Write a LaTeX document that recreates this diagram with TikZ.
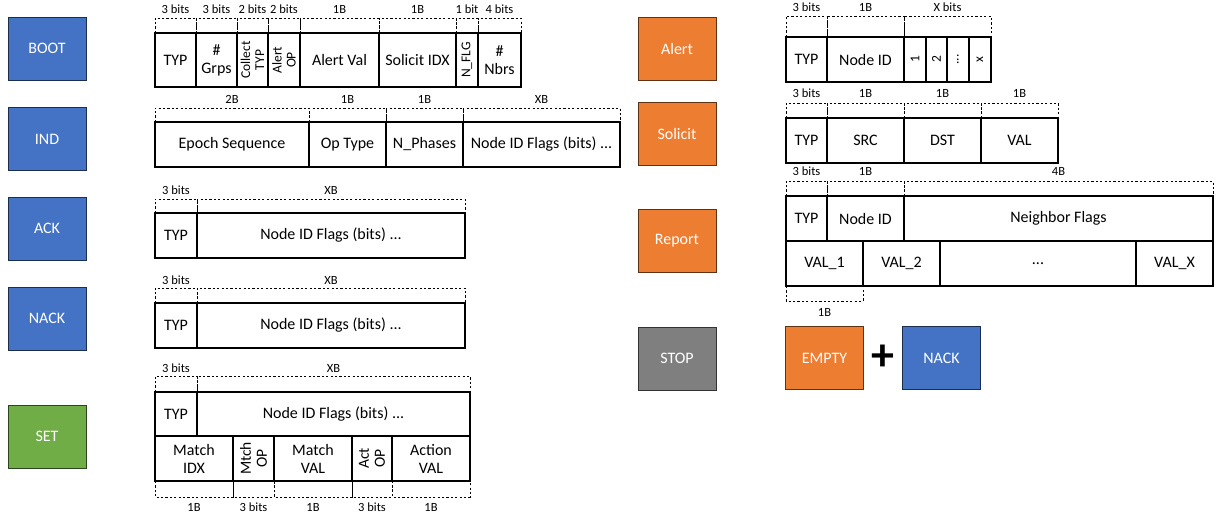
\documentclass[tikz,border=0pt]{standalone}
\usepackage{fontspec}
\setmainfont{Carlito}
\usepackage{tikz}

\definecolor{msgblue}{HTML}{4472C4}
\definecolor{msgorange}{HTML}{ED7D31}
\definecolor{msggreen}{HTML}{70AD47}
\definecolor{msggray}{HTML}{7F7F7F}

\tikzset{
  fld/.style={draw, line width=1.1pt, inner sep=0pt, outer sep=0pt},
  fldtext/.style={align=center, inner sep=0pt, font=\fontsize{16}{18}\selectfont},
  rot/.style={rotate=90, font=\fontsize{13.5}{14}\selectfont},
  bigrot/.style={rotate=90, font=\fontsize{15.5}{16}\selectfont},
  msg/.style={draw=#1!40!black, fill=#1, line width=1pt, minimum width=78pt,
    minimum height=63pt, text=white, font=\fontsize{16}{18}\selectfont},
  sz/.style={inner sep=0pt, font=\fontsize{12.5}{14}\selectfont},
  brk/.style={line width=0.9pt, dash pattern=on 2.2pt off 2.2pt},
}

% field box: [text style]{name}{x1}{y1}{x2}{y2}{text}
\newcommand{\fld}[7][]{%
  \node[fld, minimum width={(#5-#3)*1pt}, minimum height={(#6-#4)*1pt}] (#2) at ({(#3+#5)/2},{(#4+#6)/2}) {};
  \node[fldtext, #1] (#2-t) at (#2.center) {#7};}
% size bracket: {x1}{x2}{y dashed}{y box}{y label}{label}
\newcommand{\szbrk}[6]{%
  \draw[brk] (#1,#4) -- (#1,#3) -- (#2,#3) -- (#2,#4);
  \node[sz] at ({(#1+#2)/2},#5) {#6};}

\begin{document}
\begin{tikzpicture}[x=1pt, y=-1pt]
\useasboundingbox (0,0) rectangle (1219,515);

% message types
\node[msg=msgblue] (boot) at (47,48.5) {BOOT};
\node[msg=msgblue] (ind) at (47,139) {IND};
\node[msg=msgblue] (ack) at (47,228.5) {ACK};
\node[msg=msgblue] (nack) at (47,318.5) {NACK};
\node[msg=msggreen] (set) at (47,436.5) {SET};
\node[msg=msgorange] (alert) at (677,49) {Alert};
\node[msg=msgorange] (solicit) at (677,134) {Solicit};
\node[msg=msgorange] (report) at (677,240.5) {Report};
\node[msg=msggray] (stop) at (677,358.5) {STOP};
\node[msg=msgorange] (empty) at (824.5,358) {EMPTY};
\node[msg=msgblue] (nack2) at (941.5,358) {NACK};
\node[font=\fontsize{46}{46}\bfseries\selectfont, inner sep=0pt] (plus) at (883,358) {+};

% BOOT
\szbrk{155}{196}{18}{33}{9}{3 bits}
\szbrk{196}{237}{18}{33}{9}{3 bits}
\szbrk{237}{268}{18}{33}{9}{2 bits}
\szbrk{268}{300}{18}{33}{9}{2 bits}
\szbrk{300}{379}{18}{33}{9}{1B}
\szbrk{379}{456}{18}{33}{9}{1B}
\szbrk{456}{478}{18}{33}{9}{1 bit}
\szbrk{478}{521}{18}{33}{9}{4 bits}
\fld{bTyp}{155}{33}{196}{87}{TYP}
\fld{bGrp}{196}{33}{237}{87}{\#\\Grps}
\fld[rot]{bCol}{237}{33}{268}{87}{Collect\\TYP}
\fld[rot]{bAop}{268}{33}{300}{87}{Alert\\OP}
\fld{bAval}{300}{33}{379}{87}{Alert Val}
\fld{bSol}{379}{33}{456}{87}{Solicit IDX}
\fld[rot]{bNflg}{456}{33}{478}{87}{N\_FLG}
\fld{bNbr}{478}{33}{521}{87}{\#\\Nbrs}

% IND
\szbrk{155}{309}{108}{122}{99}{2B}
\szbrk{309}{386}{108}{122}{99}{1B}
\szbrk{386}{463}{108}{122}{99}{1B}
\szbrk{463}{620}{108}{122}{99}{XB}
\fld{iEpo}{155}{122}{309}{167}{Epoch Sequence}
\fld{iOp}{309}{122}{386}{167}{Op Type}
\fld{iPh}{386}{122}{463}{167}{N\_Phases}
\fld{iFl}{463}{122}{620}{167}{Node ID Flags (bits) ...}

% ACK
\szbrk{155}{197}{199}{213}{190}{3 bits}
\szbrk{197}{465}{199}{213}{190}{XB}
\fld{aTyp}{155}{213}{197}{258}{TYP}
\fld{aFl}{197}{213}{465}{258}{Node ID Flags (bits) ...}

% NACK
\szbrk{155}{197}{288}{303}{280}{3 bits}
\szbrk{197}{465}{288}{303}{280}{XB}
\fld{nTyp}{155}{303}{197}{348}{TYP}
\fld{nFl}{197}{303}{465}{348}{Node ID Flags (bits) ...}

% SET
\szbrk{155}{197}{376}{392}{368}{3 bits}
\szbrk{197}{470}{376}{392}{368}{XB}
\fld{sTyp}{155}{392}{197}{436}{TYP}
\fld{sFl}{197}{392}{470}{436}{Node ID Flags (bits) ...}
\fld{sMidx}{155}{436}{233}{481}{Match\\IDX}
\fld[bigrot]{sMop}{233}{436}{274}{481}{Mtch\\OP}
\fld{sMval}{274}{436}{352}{481}{Match\\VAL}
\fld[bigrot]{sAop}{352}{436}{392}{481}{Act\\OP}
\fld{sAval}{392}{436}{470}{481}{Action\\VAL}
\szbrk{155}{233}{497}{481}{507}{1B}
\szbrk{233}{274}{497}{481}{507}{3 bits}
\szbrk{274}{352}{497}{481}{507}{1B}
\szbrk{352}{392}{497}{481}{507}{3 bits}
\szbrk{392}{470}{497}{481}{507}{1B}

% Alert
\szbrk{786}{827}{16}{37}{7}{3 bits}
\szbrk{827}{904}{16}{37}{7}{1B}
\szbrk{904}{991}{16}{37}{7}{X bits}
\fld{alTyp}{786}{37}{827}{82}{TYP}
\fld{alId}{827}{37}{904}{82}{Node ID}
\fld[rot]{alB1}{904}{37}{926}{82}{1}
\fld[rot]{alB2}{926}{37}{947}{82}{2}
\fld[rot]{alBd}{947}{37}{969}{82}{...}
\fld[rot]{alBx}{969}{37}{991}{82}{x}

% Solicit
\szbrk{786}{827}{103}{118}{93}{3 bits}
\szbrk{827}{904}{103}{118}{93}{1B}
\szbrk{904}{981}{103}{118}{93}{1B}
\szbrk{981}{1058}{103}{118}{93}{1B}
\fld{soTyp}{786}{118}{827}{163}{TYP}
\fld{soSrc}{827}{118}{904}{163}{SRC}
\fld{soDst}{904}{118}{981}{163}{DST}
\fld{soVal}{981}{118}{1058}{163}{VAL}

% Report
\szbrk{786}{827}{181}{196}{171}{3 bits}
\szbrk{827}{904}{181}{196}{171}{1B}
\szbrk{904}{1213}{181}{196}{171}{4B}
\fld{rTyp}{786}{196}{827}{241}{TYP}
\fld{rId}{827}{196}{904}{241}{Node ID}
\fld{rNb}{904}{196}{1213}{241}{Neighbor Flags}
\fld{rV1}{786}{241}{863}{286}{VAL\_1}
\fld{rV2}{863}{241}{940}{286}{VAL\_2}
\fld{rVd}{940}{241}{1136}{286}{...}
\fld{rVx}{1136}{241}{1213}{286}{VAL\_X}
\szbrk{786}{863}{301}{286}{312}{1B}

\end{tikzpicture}
\end{document}
